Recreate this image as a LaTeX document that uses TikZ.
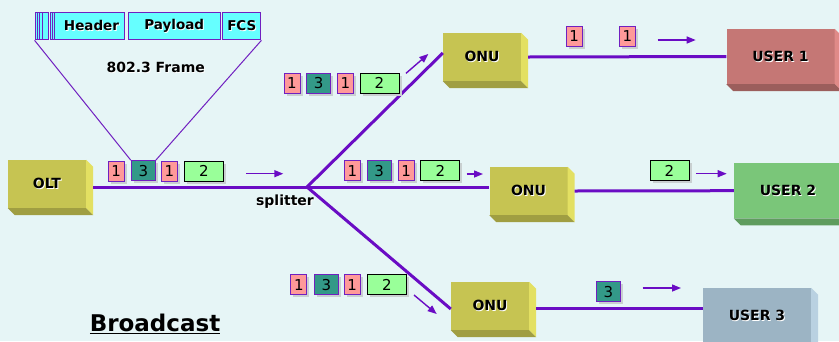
\documentclass[tikz,border=0pt]{standalone}
\usepackage{fontspec}
\setmainfont{DejaVu Sans}
\usetikzlibrary{calc,arrows.meta,shadows}

\definecolor{bg}{HTML}{E6F5F6}
\definecolor{fiber}{HTML}{6A0CC4}
\definecolor{oliveF}{HTML}{C6C452}
\definecolor{oliveS}{HTML}{E3E062}
\definecolor{oliveB}{HTML}{A09E42}
\definecolor{uaF}{HTML}{C57775}
\definecolor{uaS}{HTML}{E08A88}
\definecolor{uaB}{HTML}{9B5E5C}
\definecolor{ubF}{HTML}{7AC679}
\definecolor{ubS}{HTML}{9AE299}
\definecolor{ubB}{HTML}{5F9C5E}
\definecolor{ucF}{HTML}{9CB4C4}
\definecolor{ucS}{HTML}{B9D1E1}
\definecolor{ucB}{HTML}{7E95A5}
\definecolor{pinkP}{HTML}{FF9999}
\definecolor{tealP}{HTML}{339988}
\definecolor{greenP}{HTML}{99FF99}
\definecolor{cyanF}{HTML}{66FFFF}
\definecolor{edgeP}{HTML}{7020C0}
\definecolor{shade}{HTML}{C9D0D1}

% black text with a thin white highlight below right
\newcommand\embossed[1]{\leavevmode\rlap{\hspace{0.9pt}\raisebox{-0.9pt}{\textcolor{white}{#1}}}#1}

% side and bottom faces of an extruded block
\newcommand\extrude[3]{%
  \fill[#2] (#1.north east) -- ++(7,7) -- ($(#1.south east)+(7,7)$) -- (#1.south east) -- cycle;
  \fill[#3] (#1.south west) -- ++(7,7) -- ($(#1.south east)+(7,7)$) -- (#1.south east) -- cycle;
}

\tikzset{
  unitbox/.style={minimum width=78, minimum height=48, inner sep=0, fill=oliveF,
    font=\fontsize{14}{16}\bfseries\selectfont},
  userbox/.style={minimum width=108, minimum height=55, inner sep=0,
    font=\fontsize{14}{16}\bfseries\selectfont},
  fiberline/.style={draw=fiber, line width=3pt},
  flow/.style={draw=fiber, line width=1.4pt, -{Triangle[length=9pt,width=7pt]}},
  pkt/.style={draw=edgeP, line width=1pt, minimum height=20, inner sep=0,
    font=\fontsize{15}{16}\selectfont,
    drop shadow={shadow xshift=2.5pt, shadow yshift=-2.5pt, fill=shade, opacity=1}},
  pinkp/.style={pkt, fill=pinkP, minimum width=16},
  tealp/.style={pkt, fill=tealP, minimum width=24},
  greenp/.style={pkt, fill=greenP, draw=black, minimum width=39},
  fld/.style={draw=edgeP, line width=1pt, fill=cyanF, minimum height=27, inner sep=0,
    font=\fontsize{13.5}{15}\bfseries\selectfont},
  stripe/.style={draw=edgeP, line width=0.8pt},
  caption/.style={font=\fontsize{14}{16}\bfseries\selectfont},
}

\begin{document}
\begin{tikzpicture}[x=1pt, y=-1pt]
\fill[bg] (0,0) rectangle (839,341);
\useasboundingbox (0,0) rectangle (839,341);

% equipment blocks
\node[unitbox] (olt) at (47,184) {\embossed{OLT}};
\extrude{olt}{oliveS}{oliveB}
\node[unitbox] (onuA) at (482,57) {\embossed{ONU}};
\extrude{onuA}{oliveS}{oliveB}
\node[unitbox] (onuB) at (528.5,191) {\embossed{ONU}};
\extrude{onuB}{oliveS}{oliveB}
\node[unitbox] (onuC) at (490,306) {\embossed{ONU}};
\extrude{onuC}{oliveS}{oliveB}

\node[userbox, fill=uaF] (userA) at (780.5,56.5) {\embossed{USER 1}};
\extrude{userA}{uaS}{uaB}
\node[userbox, fill=ubF] (userB) at (788,190.7) {\embossed{USER 2}};
\extrude{userB}{ubS}{ubB}
\node[userbox, fill=ucF] (userC) at (757,315.5) {\embossed{USER 3}};
\extrude{userC}{ucS}{ucB}

% fibre plant
\coordinate (split) at (307,187);
\draw[fiberline] ([shift={(7,3)}]olt.east) -- (split);
\draw[fiberline] (split) -- ([yshift=4pt]onuA.west);
\draw[fiberline] (split) -- (split -| onuB.west);
\draw[fiberline] (split) -- ([yshift=-3pt]onuC.west);
\draw[fiberline] ([xshift=7pt]onuA.east) -- (userA.west);
\draw[fiberline] ([xshift=7pt]onuB.east) -- (userB.west);
\draw[fiberline] ([shift={(7,2)}]onuC.east) coordinate (outC) -- (outC -| userC.west);
\node[caption] (splitlabel) at (285,202.3) {\embossed{splitter}};

% Ethernet frame
\node[fld, minimum width=13.3] (pre) at (41.7,26.3) {};
\foreach \dx in {2.7,5.3,8}
  \draw[stripe] ([xshift=\dx pt]pre.north west) -- ([xshift=\dx pt]pre.south west);
\node[fld, minimum width=74] (hdr) at (87,26.3) {};
\foreach \dx in {2.5,5}
  \draw[stripe] ([xshift=\dx pt]hdr.north west) -- ([xshift=\dx pt]hdr.south west);
\node[fld, draw=none, fill=none] (hdrtext) at (91.5,26.3) {\embossed{Header}};
\node[fld, minimum width=91.7] (pay) at (174.2,26.3) {\embossed{Payload}};
\node[fld, minimum width=38.3] (fcs) at (241.8,26.3) {\embossed{FCS}};
\node[caption] (framelabel) at (155.7,68.3) {\embossed{802.3 Frame}};

% downstream traffic from the OLT
\node[pinkp] (m1) at (116.2,171) {1};
\node[tealp] (m3) at (143.3,170.7) {3};
\node[pinkp] (m1b) at (169.5,171) {1};
\node[greenp] (m2) at (203.8,171) {2};
\draw[edgeP, line width=1pt] (pre.south west) -- (m3.north west);
\draw[edgeP, line width=1pt] (fcs.south east) -- (m3.north east);

\node[pinkp] (a1) at (292,83.3) {1};
\node[tealp] (a3) at (318.7,83.3) {3};
\node[pinkp] (a1b) at (345.5,83.3) {1};
\node[greenp] (a2) at (379.5,83.3) {2};

\node[pinkp] (b1) at (352.3,170.7) {1};
\node[tealp] (b3) at (379.2,170.7) {3};
\node[pinkp] (b1b) at (406.2,170.7) {1};
\node[greenp] (b2) at (440.3,170.7) {2};

\node[pinkp] (c1) at (298.8,284.7) {1};
\node[tealp] (c3) at (326.3,284.7) {3};
\node[pinkp] (c1b) at (352.2,284.7) {1};
\node[greenp] (c2) at (387,284.7) {2};

% traffic kept by each user
\node[pinkp] (ua1) at (574.2,36) {1};
\node[pinkp] (ua1b) at (627.5,36) {1};
\node[greenp] (ub2) at (669.5,170.7) {2};
\node[tealp] (uc3) at (608.5,291.7) {3};

% direction of travel
\coordinate (fm0) at (246,173.7);  \coordinate (fm1) at (283.3,173.7);
\coordinate (fa0) at (406,73.3);   \coordinate (fa1) at (428.3,54);
\coordinate (fb0) at (466.7,174);  \coordinate (fb1) at (483,174);
\coordinate (fc0) at (414,295);    \coordinate (fc1) at (436.7,314);
\coordinate (gua0) at (657.7,40);  \coordinate (gua1) at (695.7,40);
\coordinate (gub0) at (696,173.7); \coordinate (gub1) at (726.7,173.7);
\coordinate (guc0) at (642.7,288); \coordinate (guc1) at (681,288);
\draw[flow] (fm0) -- (fm1);
\draw[flow] (fa0) -- (fa1);
\draw[flow] (fb0) -- (fb1);
\draw[flow] (fc0) -- (fc1);
\draw[flow] (gua0) -- (gua1);
\draw[flow] (gub0) -- (gub1);
\draw[flow] (guc0) -- (guc1);

\node[font=\fontsize{23}{26}\bfseries\selectfont] (title) at (155,324) {\underline{Broadcast}};
\end{tikzpicture}
\end{document}
